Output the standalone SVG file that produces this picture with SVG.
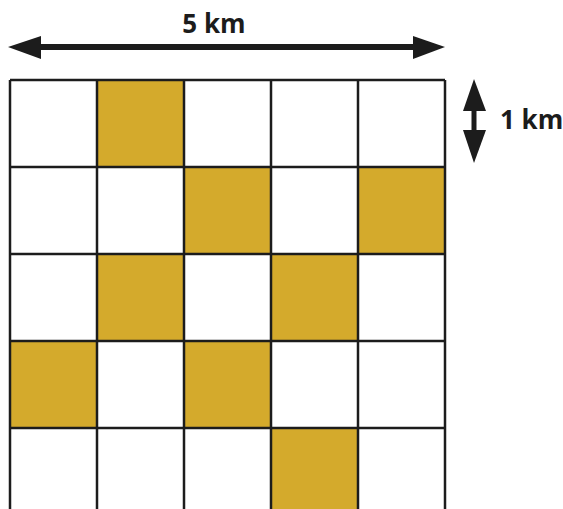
<svg xmlns="http://www.w3.org/2000/svg" width="563" height="509" viewBox="0 0 563 509">
<style>
.cell{fill:#ffffff;stroke:#1c1c1c;stroke-width:2.5}
.gold{fill:#D4AA2C}
.lbl{font-family:"Open Sans","Liberation Sans",sans-serif;font-weight:bold;font-size:26px;fill:#1c1c1c}
.ar{fill:#1c1c1c}
</style>
<rect width="563" height="509" fill="#ffffff"/>
<g id="grid">
<rect x="10" y="80" width="435" height="440" fill="#ffffff"/>
<rect class="gold" x="97" y="80" width="87" height="87"/>
<rect class="gold" x="184" y="167" width="87" height="87"/>
<rect class="gold" x="358" y="167" width="87" height="87"/>
<rect class="gold" x="97" y="254" width="87" height="87"/>
<rect class="gold" x="271" y="254" width="87" height="87"/>
<rect class="gold" x="10" y="341" width="87" height="87"/>
<rect class="gold" x="184" y="341" width="87" height="87"/>
<rect class="gold" x="271" y="428" width="87" height="87"/>
<g stroke="#1c1c1c" stroke-width="2.5" fill="none">
<path d="M10 80H445M10 167H445M10 254H445M10 341H445M10 428H445"/>
<path d="M10 80V509M97 80V509M184 80V509M271 80V509M358 80V509M445 80V509"/>
</g>
</g>
<g id="connectors">
<g id="arrow-h">
<rect class="ar" x="38" y="44" width="378" height="6"/>
<polygon class="ar" points="8,47 41,36 41,59"/>
<polygon class="ar" points="445,47 413,36 413,59"/>
</g>
<g id="arrow-v">
<rect class="ar" x="471.5" y="108" width="5" height="25"/>
<polygon class="ar" points="474,79 463,111 486,111"/>
<polygon class="ar" points="474,163 463,130 486,130"/>
</g>
</g>
<g id="label-5km"><text class="lbl" x="214" y="33" text-anchor="middle">5 km</text></g>
<g id="label-1km"><text class="lbl" x="500" y="129">1 km</text></g>
</svg>
